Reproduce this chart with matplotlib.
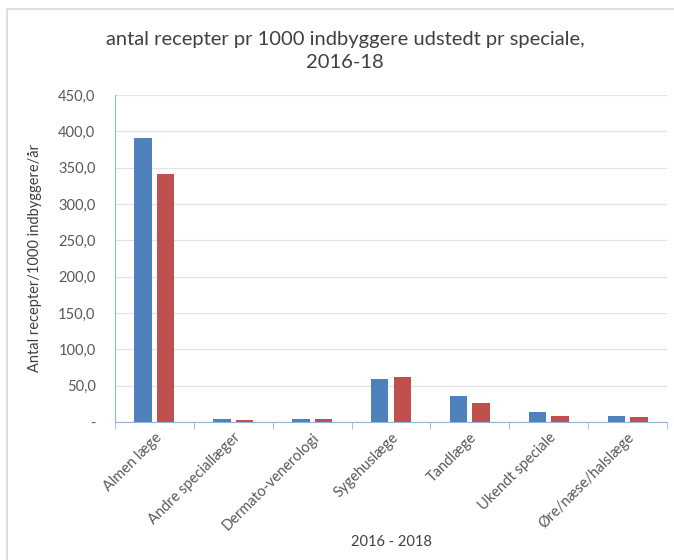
import matplotlib
matplotlib.use("Agg")
import matplotlib.pyplot as plt
from matplotlib.lines import Line2D
from matplotlib.ticker import FuncFormatter, FixedLocator
import numpy as np

categories = ["Almen læge", "Andre speciallæger", "Dermato-venerologi", "Sygehuslæge",
              "Tandlæge", "Ukendt speciale", "Øre/næse/halslæge"]
series_blue = [391.0, 4.1, 4.5, 59.6, 36.2, 13.8, 7.7]
series_red = [341.0, 3.2, 4.1, 61.4, 26.1, 8.3, 6.3]
yticks = [0, 50, 100, 150, 200, 250, 300, 350, 400, 450]

W, H = 674, 560
plt.rcParams["font.family"] = ["Lato", "DejaVu Sans"]

fig = plt.figure(figsize=(W / 100, H / 100), dpi=100)
ax = fig.add_axes([115 / W, 1 - 422 / H, (667 - 115) / W, (422 - 95) / H])

x = np.arange(len(categories))
bw = 0.22
ax.bar(x - 0.143, series_blue, width=bw, color="#4F81BD", zorder=3)
ax.bar(x + 0.143, series_red, width=bw, color="#C0504D", zorder=3)

ax.set_xlim(-0.5, len(categories) - 0.5)
ax.set_ylim(0, 450)
ax.set_yticks(yticks)


def fmt(v, pos):
    if v == 0:
        return "-"
    return f"{v:.1f}".replace(".", ",")


ax.yaxis.set_major_formatter(FuncFormatter(fmt))
ax.yaxis.grid(True, color="#E3E3E3", linewidth=0.9, zorder=0)
ax.tick_params(axis="y", length=0, pad=14, labelsize=10.5, labelcolor="#595959")

ax.set_xticks(x)
ax.set_xticklabels(categories, rotation=45, ha="right", rotation_mode="anchor",
                   fontsize=10.5, color="#595959")
ax.xaxis.set_minor_locator(FixedLocator(np.arange(-0.5, len(categories), 1.0)))
ax.tick_params(axis="x", which="major", length=0, pad=6)
ax.tick_params(axis="x", which="minor", length=5, color="#95B3D7", direction="out")

for s in ["top", "right"]:
    ax.spines[s].set_visible(False)
ax.spines["left"].set_color("#95B3D7")
ax.spines["bottom"].set_color("#95B3D7")

ax.set_ylabel("Antal recepter/1000 indbyggere/år", fontsize=10.5, color="#404040")
ax.yaxis.set_label_coords((42 - 115) / (667 - 115), 0.5)
ax.set_xlabel("2016 - 2018", fontsize=10.5, color="#404040")
ax.xaxis.set_label_coords(0.5, -(535 - 422) / (422 - 95))

fig.text(345 / W, 1 - 51 / H, "antal recepter pr 1000 indbyggere udstedt pr speciale,\n2016-18",
         ha="center", va="center", fontsize=14.5, color="#404040", linespacing=1.45)

# light frame around the chart object
fig.add_artist(Line2D([7 / W, 7 / W], [0, 1 - 9 / H], transform=fig.transFigure,
                      color="#D9D9D9", linewidth=1.2))
fig.add_artist(Line2D([7 / W, 1], [1 - 9 / H, 1 - 9 / H], transform=fig.transFigure,
                      color="#D9D9D9", linewidth=1.2))

fig.savefig("out.png", dpi=100)
